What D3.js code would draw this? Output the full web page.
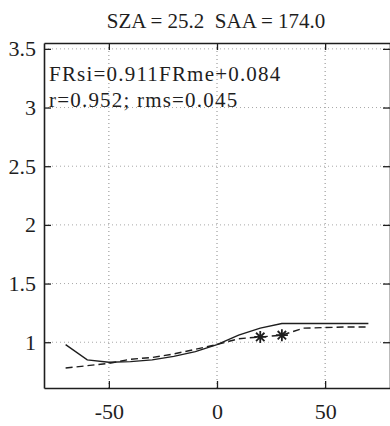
<!DOCTYPE html>
<html>
<head>
<meta charset="utf-8">
<script src="https://cdn.jsdelivr.net/npm/d3@7"></script>
<style>
  body { margin: 0; background: #fff; }
  svg { display: block; }
  svg text { font-family: "Liberation Serif", "DejaVu Serif", serif; }
</style>
</head>
<body>
<div class="canvas"></div>
<script>
// viewing angles (deg) and the two curves
const angles = [-70, -60, -50, -40, -30, -20, -10, 0, 10, 20, 30, 40, 50, 60, 70];
const frSolid = [0.98, 0.85, 0.83, 0.835, 0.85, 0.88, 0.92, 0.98, 1.06, 1.12, 1.16, 1.16, 1.16, 1.16, 1.16];
const frDashed = [0.78, 0.80, 0.82, 0.855, 0.87, 0.90, 0.94, 0.98, 1.03, 1.045, 1.06, 1.12, 1.125, 1.13, 1.13];
const starAngles = [20, 30];
const xTicks = [-50, 0, 50];
const yTicks = [1, 1.5, 2, 2.5, 3, 3.5];
const title = 'SZA = 25.2  SAA = 174.0';
const notes = ['FRsi=0.911FRme+0.084', 'r=0.952; rms=0.045'];

const ink = '#1e1e1e';
const font = '"Liberation Serif", "DejaVu Serif", serif';

const svg = d3.select('.canvas')
    .append('svg')
    .attr('width', 390)
    .attr('height', 426);

const x = d3.scaleLinear().domain([-80, 80]).range([44, 390]);
const y = d3.scaleLinear().domain([0.61, 3.55]).range([388, 43]);

// faint dotted grid
svg.append('g')
    .selectAll('line')
    .data(xTicks)
    .enter()
    .append('line')
    .attr('x1', d => x(d)).attr('x2', d => x(d))
    .attr('y1', y.range()[0]).attr('y2', y.range()[1])
    .attr('stroke', '#8a8a8a')
    .attr('stroke-width', 1)
    .attr('stroke-dasharray', '1,3');

svg.append('g')
    .selectAll('line')
    .data(yTicks)
    .enter()
    .append('line')
    .attr('x1', x.range()[0]).attr('x2', x.range()[1])
    .attr('y1', d => y(d)).attr('y2', d => y(d))
    .attr('stroke', '#a8a8a8')
    .attr('stroke-width', 1)
    .attr('stroke-dasharray', '1,3');

// axes with inward ticks on all four sides
const axisStyle = g => {
    g.attr('font-family', font).attr('font-size', 22);
    g.select('.domain').attr('stroke', ink).attr('stroke-width', 1.6);
    g.selectAll('.tick line').attr('stroke', ink).attr('stroke-width', 1.3);
    g.selectAll('.tick text').attr('fill', ink);
};

svg.append('g')
    .attr('transform', `translate(0, ${y.range()[0]})`)
    .call(d3.axisBottom(x).tickValues(xTicks).tickSize(-7).tickSizeOuter(0).tickPadding(15).tickFormat(d => String(d)))
    .call(axisStyle);

svg.append('g')
    .attr('transform', `translate(0, ${y.range()[1]})`)
    .call(d3.axisTop(x).tickValues(xTicks).tickSize(-7).tickSizeOuter(0).tickFormat(''))
    .call(axisStyle);

svg.append('g')
    .attr('transform', `translate(${x.range()[0]}, 0)`)
    .call(d3.axisLeft(y).tickValues(yTicks).tickSize(-7).tickSizeOuter(0).tickPadding(8).tickFormat(d => String(d)))
    .call(axisStyle);

svg.append('g')
    .attr('transform', `translate(${x.range()[1]}, 0)`)
    .call(d3.axisRight(y).tickValues(yTicks).tickSize(-7).tickSizeOuter(0).tickFormat(''))
    .call(axisStyle);

// curves
const line = d3.line()
    .x(d => x(d[0]))
    .y(d => y(d[1]));

svg.append('path')
    .datum(d3.zip(angles, frSolid))
    .attr('d', line)
    .attr('fill', 'none')
    .attr('stroke', ink)
    .attr('stroke-width', 1.4);

svg.append('path')
    .datum(d3.zip(angles, frDashed))
    .attr('d', line)
    .attr('fill', 'none')
    .attr('stroke', ink)
    .attr('stroke-width', 1.4)
    .attr('stroke-dasharray', '7,4');

// asterisk markers
const r = 6;
const star = `M0,${-r}L0,${r}M${-r},0L${r},0M${-r * 0.7},${-r * 0.7}L${r * 0.7},${r * 0.7}M${-r * 0.7},${r * 0.7}L${r * 0.7},${-r * 0.7}`;
svg.append('g')
    .selectAll('path')
    .data(starAngles)
    .enter()
    .append('path')
    .attr('transform', d => `translate(${x(d)}, ${y(frDashed[angles.indexOf(d)])})`)
    .attr('d', star)
    .attr('stroke', ink)
    .attr('stroke-width', 1.8);

// title and fit notes
svg.append('text')
    .attr('x', 216)
    .attr('y', 28)
    .attr('text-anchor', 'middle')
    .attr('fill', ink)
    .style('font-size', '21px')
    .style('white-space', 'pre')
    .text(title);

svg.selectAll('.note')
    .data(notes)
    .enter()
    .append('text')
    .attr('class', 'note')
    .attr('x', 49)
    .attr('y', (d, i) => 81 + i * 26)
    .attr('fill', ink)
    .style('font-size', '21px')
    .style('letter-spacing', '1.2px')
    .text(d => d);
</script>
</body>
</html>
